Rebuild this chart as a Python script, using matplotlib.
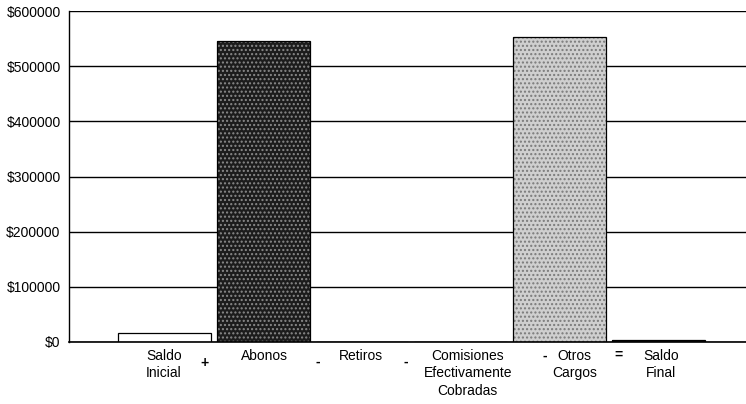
import matplotlib
matplotlib.use("Agg")
import matplotlib.pyplot as plt
from matplotlib.ticker import FuncFormatter
from matplotlib.transforms import ScaledTranslation

categories = ["Saldo\nInicial", "Abonos", "Retiros", "Comisiones\nEfectivamente\nCobradas", "Otros\nCargos", "Saldo\nFinal"]
values = [16000, 545000, 0, 0, 553000, 3000]
operators = ["+", "-", "-", "-", "="]
yticks = [0, 100000, 200000, 300000, 400000, 500000, 600000]

plt.rcParams['font.family'] = ['Liberation Sans', 'DejaVu Sans']

W, H = 746, 404
fig = plt.figure(figsize=(W/100, H/100), dpi=100)
ax = fig.add_axes([69/W, (H-342)/H, (W-69)/W, 331/H])

faces = ["white", "#1c1c1c", "white", "white", "#cfcfcf", "#1c1c1c"]
hatches = [None, "....", None, None, "....", None]
hcolors = ["black", "#8a8a8a", "black", "black", "#7a7a7a", "black"]
x = list(range(len(categories)))
for xi, v, fc, h, hc in zip(x, values, faces, hatches, hcolors):
    ax.bar(xi, v, width=0.94, facecolor=fc, edgecolor=hc, hatch=h, linewidth=0.0, zorder=3)
    ax.bar(xi, v, width=0.94, facecolor="none", edgecolor="black", linewidth=0.9, zorder=4)

ax.set_xlim(-0.97, 5.89)
ax.set_ylim(0, 600000)
ax.set_yticks(yticks)
ax.yaxis.set_major_formatter(FuncFormatter(lambda v, p: f"${int(v)}"))
ax.tick_params(axis='y', length=0, pad=6, labelsize=10)
ax.set_xticks(x)
ax.set_xticklabels(categories, fontsize=10, linespacing=1.3, va='top')
ax.tick_params(axis='x', length=0, pad=5)
# small horizontal offsets of category labels (pixels) as in the reference
label_dx = [-1, 1, -1, 7, 15, 3]
for lbl, dx in zip(ax.get_xticklabels(), label_dx):
    lbl.set_transform(lbl.get_transform() + ScaledTranslation(dx/100, 0, fig.dpi_scale_trans))
ax.grid(axis='y', color='black', linewidth=1.0, zorder=0)
for s in ['top', 'right']:
    ax.spines[s].set_visible(False)
ax.spines['left'].set_linewidth(1.0)
ax.spines['bottom'].set_linewidth(1.2)
ax.spines['bottom'].set_zorder(5)

op_dx = [-10, 5, -6, 35, 10]
op_dy = [-15, -14.5, -14.5, -10, -9.5]
for i, (op, dx, dy) in enumerate(zip(operators, op_dx, op_dy)):
    ax.annotate(op, xy=(i + 0.5, 0), xycoords='data', xytext=(dx*0.72, dy),
                textcoords='offset points', ha='center', va='center', fontsize=10,
                fontweight='bold', annotation_clip=False)

fig.savefig("out.png", dpi=100)
